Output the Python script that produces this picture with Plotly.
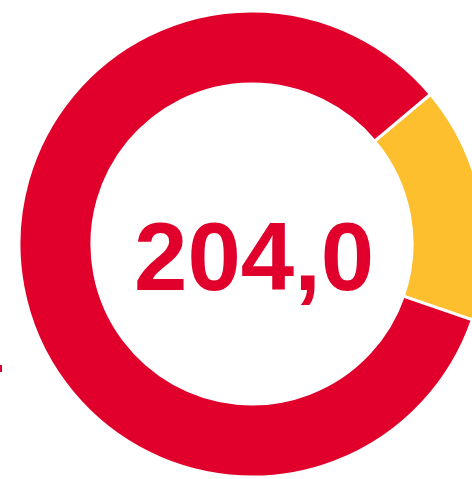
import plotly.graph_objects as go

labels = ["Gelb", "Rot"]
values = [40, 204]
colors = ["#FDBF2D", "#E0002B"]
center_text = "204,0"

W, H = 490, 479
cx, cy, r = 252, 244, 233

fig = go.Figure(go.Pie(
    labels=labels,
    values=values,
    hole=0.687,
    sort=False,
    direction="clockwise",
    rotation=50,
    marker=dict(colors=colors, line=dict(color="white", width=3)),
    textinfo="none",
    hoverinfo="none",
    showlegend=False,
    domain=dict(x=[(cx - r) / W, (cx + r) / W], y=[(H - cy - r) / H, (H - cy + r) / H]),
))

fig.add_annotation(
    x=(cx + 2) / W, y=(H - 257) / H, xref="paper", yref="paper",
    text="<b>" + center_text + "</b>", showarrow=False,
    font=dict(family="Liberation Sans, Arial, sans-serif", size=96, color="#E0002B"),
    xanchor="center", yanchor="middle",
)

fig.add_shape(type="rect", xref="paper", yref="paper",
              x0=0, x1=2 / W, y0=(H - 372) / H, y1=(H - 365) / H,
              fillcolor="#E0002B", line=dict(width=0))

fig.update_layout(
    width=W, height=H,
    margin=dict(l=0, r=0, t=0, b=0),
    paper_bgcolor="white", plot_bgcolor="white",
)

fig.write_html("out.html", config={"displayModeBar": False},
               post_script="document.body.style.margin='0';document.body.style.overflow='hidden';document.documentElement.style.overflow='hidden';")
